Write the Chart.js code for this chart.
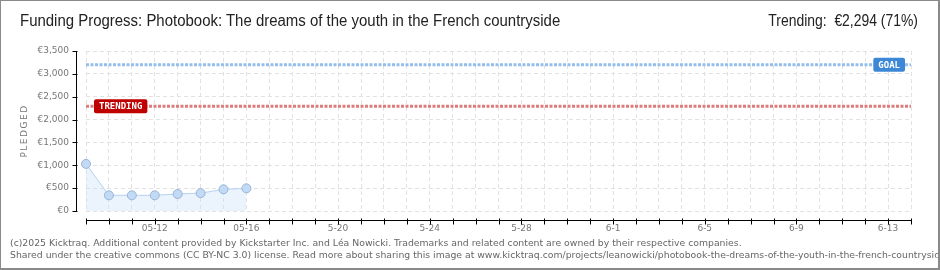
<!DOCTYPE html>
<html>
<head>
<meta charset="utf-8">
<script src="https://cdn.jsdelivr.net/npm/chart.js@4.4.1/dist/chart.umd.min.js"></script>
<style>
  html, body { margin: 0; padding: 0; background: #fff; }
  .frame { position: relative; width: 940px; height: 270px; box-sizing: border-box;
           border: 1px solid #8a8a8a; border-right-width: 2px; border-bottom-width: 2px; overflow: hidden; }
  canvas { position: absolute; left: 0; top: 0; }
  .title { position: absolute; left: 19px; top: 11px; font: 16px "Liberation Sans", sans-serif; color: #222; white-space: nowrap;
           transform: scaleX(0.935); transform-origin: left top; }
  .trend { position: absolute; right: 20px; top: 11px; font: 16px "Liberation Sans", sans-serif; color: #222; white-space: nowrap;
           transform: scaleX(0.87); transform-origin: right top; }
  .foot { position: absolute; left: 9px; top: 236px; font: 9.3px "DejaVu Sans", sans-serif; color: #666; line-height: 12px; white-space: nowrap; }
</style>
</head>
<body>
<div class="frame">
  <canvas id="chart" width="940" height="270"></canvas>
  <div class="title">Funding Progress: Photobook: The dreams of the youth in the French countryside</div>
  <div class="trend">Trending:&nbsp; €2,294 (71%)</div>
  <div class="foot">(c)2025 Kicktraq. Additional content provided by Kickstarter Inc. and Léa Nowicki. Trademarks and related content are owned by their respective companies.<br>Shared under the creative commons (CC BY-NC 3.0) license. Read more about sharing this image at www.kicktraq.com/projects/leanowicki/photobook-the-dreams-of-the-youth-in-the-french-countryside/</div>
</div>
<script>
// days shown on the x axis (05-09 .. 06-14)
const days = ['05-09','05-10','05-11','05-12','05-13','05-14','05-15','05-16','05-17','05-18',
  '05-19','05-20','05-21','05-22','05-23','05-24','05-25','05-26','05-27','05-28','05-29','05-30','05-31',
  '06-01','06-02','06-03','06-04','06-05','06-06','06-07','06-08','06-09','06-10','06-11','06-12','06-13','06-14'];
const tickLabels = ['','','','05-12','','','','05-16','','','','5-20','','','','5-24','','','','5-28',
  '','','','6-1','','','','6-5','','','','6-9','','','','6-13',''];
const pledged = [1030, 343, 343, 343, 372, 390, 474, 496];
const goal = 3200;
const trending = 2294;

const TICK = '#000';
const axisFont = { family: 'DejaVu Sans', size: 9 };

const axesPlugin = {
  id: 'axes',
  afterDatasetsDraw(chart) {
    const ctx = chart.ctx, a = chart.chartArea;
    const x = chart.scales.x, y = chart.scales.y;
    ctx.save();
    ctx.lineWidth = 1;
    // y axis line and ticks
    const ax = a.left - 9.5;
    ctx.strokeStyle = TICK;
    ctx.beginPath(); ctx.moveTo(ax, a.top); ctx.lineTo(ax, a.bottom + 0.5); ctx.stroke();
    y.ticks.forEach(t => {
      const py = Math.round(y.getPixelForValue(t.value)) + 0.5;
      ctx.strokeStyle = t.value % 500 === 0 ? TICK : '#e00000';
      ctx.beginPath(); ctx.moveTo(ax - 4, py); ctx.lineTo(ax + 1, py); ctx.stroke();
    });
    // x axis line and ticks
    const ay = a.bottom + 9.5;
    ctx.strokeStyle = TICK;
    ctx.beginPath(); ctx.moveTo(a.left, ay); ctx.lineTo(a.right, ay); ctx.stroke();
    days.forEach((d, i) => {
      const px = Math.round(x.getPixelForValue(i)) + 0.5;
      ctx.beginPath(); ctx.moveTo(px, ay - 2); ctx.lineTo(px, ay + 4); ctx.stroke();
    });
    // y axis title
    ctx.save();
    ctx.translate(24, (a.top + a.bottom) / 2);
    ctx.rotate(-Math.PI / 2);
    ctx.font = '9px "DejaVu Sans", sans-serif';
    ctx.letterSpacing = '1.5px';
    ctx.fillStyle = '#777';
    ctx.textAlign = 'center';
    ctx.textBaseline = 'middle';
    ctx.fillText('PLEDGED', 0, 0);
    ctx.restore();
    // line labels
    const tagFont = 'bold 9px "DejaVu Sans Mono", monospace';
    const tag = (text, bg, left, cy) => {
      ctx.font = tagFont;
      const w = ctx.measureText(text).width + 10;
      ctx.fillStyle = bg;
      ctx.beginPath();
      ctx.roundRect(left, cy - 7, w, 14, 2);
      ctx.fill();
      ctx.fillStyle = '#fff';
      ctx.textBaseline = 'middle';
      ctx.fillText(text, left + 5, cy + 0.5);
    };
    tag('TRENDING', '#c00000', a.left + 8, y.getPixelForValue(trending));
    ctx.font = tagFont;
    const gw = ctx.measureText('GOAL').width + 10;
    tag('GOAL', '#3c87d6', a.right - 6 - gw, y.getPixelForValue(goal));
    ctx.restore();
  }
};

new Chart(document.getElementById('chart'), {
  type: 'line',
  data: {
    labels: days,
    datasets: [
      {
        label: 'Pledged',
        data: pledged,
        borderColor: '#b5d1f0',
        backgroundColor: 'rgba(205,225,248,0.4)',
        fill: 'origin',
        borderWidth: 1,
        tension: 0,
        pointRadius: 4.5,
        pointBackgroundColor: '#c3daf5',
        pointBorderColor: '#97b4d8',
        pointBorderWidth: 1
      },
      {
        label: 'Goal',
        data: [{ x: days[0], y: goal }, { x: days[days.length - 1], y: goal }],
        borderColor: '#94bfec',
        borderWidth: 3,
        borderDash: [3, 1.5],
        pointRadius: 0,
        fill: false
      },
      {
        label: 'Trending',
        data: [{ x: days[0], y: trending }, { x: days[days.length - 1], y: trending }],
        borderColor: '#dc7c7c',
        borderWidth: 3,
        borderDash: [3, 1.5],
        pointRadius: 0,
        fill: false
      }
    ]
  },
  options: {
    responsive: false,
    animation: false,
    layout: { padding: { top: 50, right: 30, bottom: 0, left: 0 } },
    plugins: { legend: { display: false }, tooltip: { enabled: false } },
    scales: {
      x: {
        offset: false,
        border: { display: false, dash: [4, 3] },
        grid: { color: '#e2e2e2', drawTicks: false },
        afterFit(s) { s.height = 60; },
        ticks: {
          autoSkip: false, maxRotation: 0, padding: 12, color: '#777', font: axisFont,
          callback: (v, i) => tickLabels[i]
        }
      },
      y: {
        min: 0, max: 3500,
        border: { display: false, dash: [4, 3] },
        grid: { color: c => c.tick.value % 500 === 0 ? '#e2e2e2' : 'rgba(0,0,0,0)', drawTicks: false },
        afterFit(s) { s.width = 85; },
        ticks: {
          stepSize: 250, padding: 17, color: '#777', font: axisFont,
          callback: v => v % 500 === 0 ? '€' + v.toLocaleString('en-US') : ''
        }
      }
    }
  },
  plugins: [axesPlugin]
});
</script>
</body>
</html>
